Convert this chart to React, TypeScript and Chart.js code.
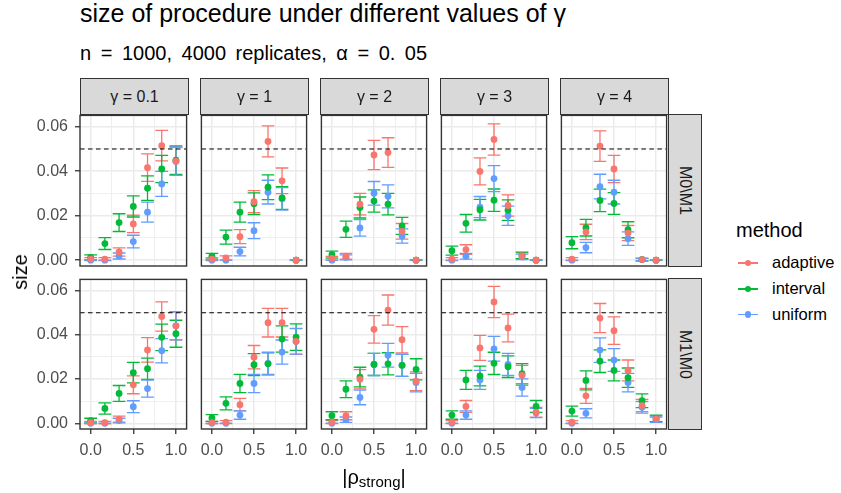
import React, { useEffect, useRef } from 'react';
import { Chart, registerables } from 'chart.js';

Chart.register(...registerables);

// ---------------- data ----------------
const rhoStrong = [0, 0.1667, 0.3333, 0.5, 0.6667, 0.8333, 1];
const gammaLabels = ['γ = 0.1', 'γ = 1', 'γ = 2', 'γ = 3', 'γ = 4'];
const rowLabels = ['M0\\M1', 'M1\\M0'];
const methodNames = ['adaptive', 'interval', 'uniform'];
const methodColors = ['#F8766D', '#00BA38', '#619CFF'];
const yTickLabels = ['0.00', '0.02', '0.04', '0.06'];
const xTickLabels = ['0.0', '0.5', '1.0'];
const yGridValues = [0, 0.01, 0.02, 0.03, 0.04, 0.05, 0.06];
const xGridValues = [0, 0.25, 0.5, 0.75, 1];
const nominalAlpha = 0.05;
const REPLICATES = 4000;

// rows: gamma = 0.1, 1, 2, 3, 4 ; columns: rhoStrong
const adaptiveM0M1 = [
  [0.0005, 0.0005, 0.0037, 0.0163, 0.0416, 0.0515, 0.0445],
  [0.0005, 0.001, 0.0106, 0.0263, 0.0534, 0.0357, 0],
  [0.0008, 0.0018, 0.0252, 0.0473, 0.0484, 0.013, 0],
  [0.0005, 0.0048, 0.0399, 0.0543, 0.0246, 0.002, 0],
  [0.0005, 0.0127, 0.0513, 0.041, 0.0122, 0.0003, 0],
];
const intervalM0M1 = [
  [0.0013, 0.0075, 0.0169, 0.0242, 0.0324, 0.041, 0.045],
  [0.0018, 0.0104, 0.0216, 0.0254, 0.0328, 0.028, 0],
  [0.0025, 0.0139, 0.0237, 0.0266, 0.0252, 0.0154, 0],
  [0.0043, 0.0166, 0.0227, 0.027, 0.0225, 0.0022, 0],
  [0.0079, 0.0146, 0.0269, 0.0255, 0.0137, 0.0003, 0],
];
const uniformM0M1 = [
  [0, 0, 0.0019, 0.0084, 0.0216, 0.0343, 0.0445],
  [0, 0, 0.0039, 0.0133, 0.0306, 0.0276, 0],
  [0, 0.0013, 0.0145, 0.0301, 0.0287, 0.0109, 0],
  [0, 0.0018, 0.0239, 0.0367, 0.02, 0.0015, 0],
  [0, 0.0057, 0.0331, 0.0306, 0.0097, 0.0003, 0],
];
const adaptiveM1M0 = [
  [0.0003, 0.0003, 0.0019, 0.0174, 0.0332, 0.0483, 0.0441],
  [0.0003, 0.0005, 0.0084, 0.0299, 0.0455, 0.0455, 0.037],
  [0.0005, 0.0034, 0.0199, 0.0425, 0.0512, 0.0378, 0.019],
  [0.0005, 0.0076, 0.0341, 0.0549, 0.0431, 0.0217, 0.005],
  [0.0005, 0.0124, 0.0476, 0.0419, 0.0239, 0.008, 0.002],
];
const intervalM1M0 = [
  [0.0012, 0.0067, 0.0135, 0.0229, 0.0247, 0.0389, 0.0405],
  [0.0024, 0.009, 0.018, 0.0265, 0.0269, 0.0381, 0.039],
  [0.0034, 0.0154, 0.0209, 0.0266, 0.0269, 0.0262, 0.0244],
  [0.0037, 0.0196, 0.0214, 0.0271, 0.0256, 0.0224, 0.0076],
  [0.0055, 0.0194, 0.0281, 0.0239, 0.0206, 0.0102, 0.0022],
];
const uniformM1M0 = [
  [0, 0, 0.0012, 0.0075, 0.0157, 0.0328, 0.0441],
  [0, 0, 0.0037, 0.018, 0.0271, 0.0322, 0.0371],
  [0, 0.0016, 0.0117, 0.0266, 0.0308, 0.0262, 0.0184],
  [0, 0.0037, 0.0196, 0.0337, 0.0266, 0.0162, 0.0046],
  [0, 0.0045, 0.0331, 0.0286, 0.0184, 0.0072, 0.0016],
];
const rowSeries = [
  [adaptiveM0M1, intervalM0M1, uniformM0M1],
  [adaptiveM1M0, intervalM1M0, uniformM1M0],
];

// ---------------- layout ----------------
const FONT = "'Liberation Sans', Arial, Helvetica, sans-serif";
const PANEL_LEFT = [80, 200, 320, 440, 560];
const PANEL_W = 108;
const PANEL_TOP = [114, 278];
const PANEL_H = [152, 151];
const STRIP_TOP = 78;
const X_MIN = -0.125;
const X_MAX = 1.125;
const Y_MIN = -0.0026;
const Y_MAX = 0.0651;
const CAP_HALF = 0.075;
const TICK_FONT = 16;
const TICK_COLOR = '#4D4D4D';
const AXIS_DARK = '#333333';

const facetPlugin = {
  id: 'facetExtras',
  beforeDatasetsDraw(chart: any) {
    const { ctx, chartArea, scales } = chart;
    const x = scales.x;
    const y = scales.y;
    ctx.save();
    ctx.beginPath();
    ctx.rect(chartArea.left, chartArea.top, chartArea.right - chartArea.left, chartArea.bottom - chartArea.top);
    ctx.clip();
    chart.data.datasets.forEach((ds: any) => {
      ctx.strokeStyle = ds.borderColor;
      ctx.lineWidth = 1.3;
      ds.data.forEach((pt: any) => {
        const half = 1.96 * Math.sqrt((pt.y * (1 - pt.y)) / REPLICATES);
        const yl = y.getPixelForValue(pt.y - half);
        const yh = y.getPixelForValue(pt.y + half);
        const xc = x.getPixelForValue(pt.x);
        const xl = x.getPixelForValue(pt.x - CAP_HALF);
        const xr = x.getPixelForValue(pt.x + CAP_HALF);
        ctx.beginPath();
        ctx.moveTo(xc, yl);
        ctx.lineTo(xc, yh);
        ctx.moveTo(xl, yl);
        ctx.lineTo(xr, yl);
        ctx.moveTo(xl, yh);
        ctx.lineTo(xr, yh);
        ctx.stroke();
      });
    });
    ctx.restore();
  },
  afterDatasetsDraw(chart: any) {
    const { ctx, chartArea, scales } = chart;
    const yy = scales.y.getPixelForValue(nominalAlpha);
    ctx.save();
    ctx.strokeStyle = '#000000';
    ctx.lineWidth = 1.1;
    ctx.setLineDash([4.5, 3.5]);
    ctx.beginPath();
    ctx.moveTo(chartArea.left, yy);
    ctx.lineTo(chartArea.right, yy);
    ctx.stroke();
    ctx.restore();
  },
  afterDraw(chart: any) {
    const { ctx, chartArea } = chart;
    ctx.save();
    ctx.strokeStyle = AXIS_DARK;
    ctx.lineWidth = 1.4;
    ctx.strokeRect(chartArea.left, chartArea.top, chartArea.right - chartArea.left, chartArea.bottom - chartArea.top);
    ctx.restore();
  },
};

function Panel({ row, col }: { row: number; col: number }) {
  const ref = useRef<HTMLCanvasElement | null>(null);
  const isLeft = col === 0;
  const isBottom = row === 1;
  const yAxisW = isLeft ? 70 : 0;
  const padLeft = isLeft ? 0 : 2;
  const xAxisH = isBottom ? 40 : 8;
  const W = yAxisW + padLeft + PANEL_W + 2;
  const H = 2 + PANEL_H[row] + xAxisH;
  const left = PANEL_LEFT[col] - yAxisW - padLeft;
  const top = PANEL_TOP[row] - 2;

  useEffect(() => {
    const canvas = ref.current;
    if (!canvas) return;
    const series = rowSeries[row];
    const chart = new Chart(canvas, {
      type: 'scatter',
      data: {
        datasets: methodNames.map((name, m) => ({
          label: name,
          data: rhoStrong.map((xv, i) => ({ x: xv, y: series[m][col][i] })),
          backgroundColor: methodColors[m],
          borderColor: methodColors[m],
          pointBackgroundColor: methodColors[m],
          pointRadius: 3.4,
          pointHoverRadius: 3.4,
          pointBorderWidth: 0,
        })),
      },
      options: {
        responsive: false,
        animation: false,
        devicePixelRatio: 1,
        events: [],
        layout: { padding: { left: padLeft, top: 2, right: 2, bottom: 0 } },
        plugins: { legend: { display: false }, tooltip: { enabled: false }, title: { display: false } },
        scales: {
          x: {
            type: 'linear',
            min: X_MIN,
            max: X_MAX,
            afterBuildTicks: (s: any) => {
              s.ticks = xGridValues.map((v) => ({ value: v }));
            },
            afterFit: (s: any) => {
              s.height = xAxisH;
              s.paddingLeft = 0;
              s.paddingRight = 0;
              s.paddingTop = 0;
              s.paddingBottom = 0;
            },
            border: { display: false },
            grid: {
              color: '#EBEBEB',
              lineWidth: (c: any) => (c.index % 2 === 0 ? 1.5 : 0.8),
              drawTicks: isBottom,
              tickLength: 5,
              tickWidth: 1.3,
              tickColor: (c: any) => (c.index % 2 === 0 ? AXIS_DARK : 'rgba(0,0,0,0)'),
            },
            ticks: {
              display: isBottom,
              autoSkip: false,
              maxRotation: 0,
              minRotation: 0,
              padding: 7,
              color: TICK_COLOR,
              font: { family: FONT, size: TICK_FONT },
              callback: (_v: any, i: number) => (i % 2 === 0 ? xTickLabels[i / 2] : ''),
            },
          },
          y: {
            type: 'linear',
            min: Y_MIN,
            max: Y_MAX,
            afterBuildTicks: (s: any) => {
              s.ticks = yGridValues.map((v) => ({ value: v }));
            },
            afterFit: (s: any) => {
              s.width = yAxisW;
              s.paddingLeft = 0;
              s.paddingRight = 0;
              s.paddingTop = 0;
              s.paddingBottom = 0;
            },
            border: { display: false },
            grid: {
              color: '#EBEBEB',
              lineWidth: (c: any) => (c.index % 2 === 0 ? 1.5 : 0.8),
              drawTicks: isLeft,
              tickLength: 5,
              tickWidth: 1.3,
              tickColor: (c: any) => (c.index % 2 === 0 ? AXIS_DARK : 'rgba(0,0,0,0)'),
            },
            ticks: {
              display: isLeft,
              autoSkip: false,
              padding: 7,
              color: TICK_COLOR,
              font: { family: FONT, size: TICK_FONT },
              callback: (_v: any, i: number) => (i % 2 === 0 ? yTickLabels[i / 2] : ''),
            },
          },
        },
      } as any,
      plugins: [facetPlugin],
    });
    return () => chart.destroy();
  }, [row, col]);

  return (
    <canvas
      ref={ref}
      width={W}
      height={H}
      style={{ position: 'absolute', left, top, width: W, height: H }}
    />
  );
}

const stripBase: React.CSSProperties = {
  position: 'absolute',
  boxSizing: 'border-box',
  background: '#D9D9D9',
  border: `1.4px solid ${AXIS_DARK}`,
  color: '#1A1A1A',
  fontSize: 16,
  display: 'flex',
  alignItems: 'center',
  justifyContent: 'center',
  fontFamily: FONT,
};

export default function App() {
  return (
    <div
      style={{
        position: 'absolute',
        left: 0,
        top: 0,
        width: 841,
        height: 493,
        background: '#FFFFFF',
        overflow: 'hidden',
        fontFamily: FONT,
      }}
    >
      {/* title */}
      <div style={{ position: 'absolute', left: 80, top: 1, fontSize: 25, lineHeight: 1, color: '#000', whiteSpace: 'nowrap' }}>
        size of procedure under different values of γ
      </div>
      <div
        style={{
          position: 'absolute',
          left: 80,
          top: 43,
          fontSize: 20,
          lineHeight: 1,
          color: '#000',
          whiteSpace: 'nowrap',
          wordSpacing: 4,
        }}
      >
        n = 1000, 4000 replicates, α = 0. 05
      </div>

      {/* panels */}
      {[0, 1].map((r) => PANEL_LEFT.map((_, c) => <Panel key={`${r}-${c}`} row={r} col={c} />))}

      {/* top strips */}
      {gammaLabels.map((g, c) => (
        <div key={g} style={{ ...stripBase, left: PANEL_LEFT[c], top: STRIP_TOP, width: PANEL_W + 1, height: PANEL_TOP[0] - STRIP_TOP + 1 }}>
          {g}
        </div>
      ))}

      {/* right strips */}
      {rowLabels.map((lab, r) => (
        <div
          key={lab}
          style={{
            ...stripBase,
            left: PANEL_LEFT[4] + PANEL_W,
            top: PANEL_TOP[r],
            width: 34,
            height: PANEL_H[r] + 1,
          }}
        >
          <span style={{ writingMode: 'vertical-rl' as any }}>{lab}</span>
        </div>
      ))}

      {/* axis titles */}
      <div
        style={{
          position: 'absolute',
          left: 20,
          top: 272,
          transform: 'translate(-50%, -50%) rotate(-90deg)',
          fontSize: 20,
          lineHeight: 1,
          color: '#000',
          whiteSpace: 'nowrap',
        }}
      >
        size
      </div>
      <div
        style={{
          position: 'absolute',
          left: 274,
          width: 200,
          top: 467,
          textAlign: 'center',
          fontSize: 20,
          lineHeight: 1,
          color: '#000',
          whiteSpace: 'nowrap',
        }}
      >
        |ρ<span style={{ fontSize: 15, position: 'relative', top: 3 }}>strong</span>|
      </div>

      {/* legend */}
      <div style={{ position: 'absolute', left: 736, top: 220, fontSize: 20, lineHeight: 1, color: '#000' }}>method</div>
      {methodNames.map((name, i) => {
        const cy = [263, 289, 314.5][i];
        return (
          <React.Fragment key={name}>
            <div
              style={{
                position: 'absolute',
                left: 738,
                top: cy - 0.7,
                width: 20,
                height: 1.4,
                background: methodColors[i],
              }}
            />
            <div
              style={{
                position: 'absolute',
                left: 748 - 3.4,
                top: cy - 3.4,
                width: 6.8,
                height: 6.8,
                borderRadius: '50%',
                background: methodColors[i],
              }}
            />
            <div
              style={{
                position: 'absolute',
                left: 772,
                top: cy - 9,
                fontSize: 16.5,
                lineHeight: 1,
                color: '#000',
                whiteSpace: 'nowrap',
              }}
            >
              {name}
            </div>
          </React.Fragment>
        );
      })}
    </div>
  );
}
